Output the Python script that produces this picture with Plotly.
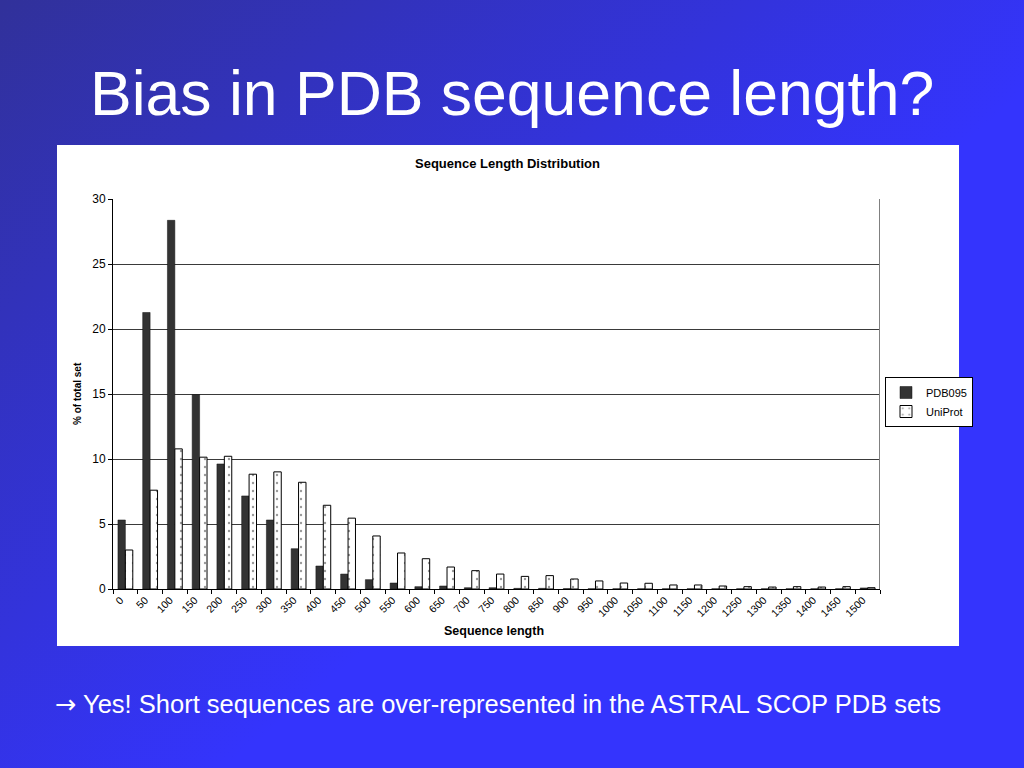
import base64
import plotly.graph_objects as go

W, H = 1024, 768

# ---- data ----
categories = [str(v) for v in range(0, 1501, 50)]
pdb095 = [5.31, 21.27, 28.36, 14.96, 9.62, 7.16, 5.31, 3.10, 1.77, 1.15,
          0.72, 0.46, 0.18, 0.23, 0.10, 0.10, 0.05, 0.05, 0.03, 0.02,
          0.02, 0.02, 0.02, 0.02, 0.02, 0.02, 0.02, 0.02, 0.02, 0.02, 0.08]
uniprot = [3.00, 7.60, 10.78, 10.14, 10.21, 8.83, 9.01, 8.21, 6.44, 5.45,
           4.08, 2.77, 2.33, 1.69, 1.41, 1.15, 0.97, 1.03, 0.77, 0.62,
           0.46, 0.44, 0.31, 0.31, 0.23, 0.18, 0.15, 0.18, 0.15, 0.18, 0.10]
y_ticks = [0, 5, 10, 15, 20, 25, 30]

FONT = "Liberation Sans, Arial, sans-serif"


def px(x):
    return x / W


def py(y):
    return 1 - y / H


# gradient background as inline svg
svg = (
    '<svg xmlns="http://www.w3.org/2000/svg" width="1024" height="768">'
    '<defs><linearGradient id="g" x1="0" y1="0" x2="0.62" y2="0.55">'
    '<stop offset="0" stop-color="#31319a"/>'
    '<stop offset="1" stop-color="#3434fd"/>'
    '</linearGradient></defs>'
    '<rect width="1024" height="768" fill="url(#g)"/></svg>'
)
svg_uri = "data:image/svg+xml;base64," + base64.b64encode(svg.encode()).decode()

fig = go.Figure()
fig.add_bar(
    x=categories, y=pdb095, name="PDB095",
    marker=dict(color="#333333", line=dict(color="#111111", width=0.5)),
)
fig.add_bar(
    x=categories, y=uniprot, name="UniProt",
    marker=dict(
        color="white",
        line=dict(color="#000000", width=1),
        pattern=dict(shape=".", fgcolor="#333333", bgcolor="white", size=8, solidity=0.07),
    ),
)

fig.update_layout(
    width=W, height=H,
    autosize=False,
    margin=dict(l=0, r=0, t=0, b=0, pad=0, autoexpand=False),
    paper_bgcolor="#3434f5",
    plot_bgcolor="white",
    barmode="group",
    bargap=0.40,
    bargroupgap=0,
    font=dict(family=FONT, color="black", size=10),
    showlegend=True,
    legend=dict(
        x=px(885), y=py(377), xanchor="left", yanchor="top",
        bgcolor="white", bordercolor="black", borderwidth=1,
        font=dict(size=11, family=FONT, color="black"),
        tracegroupgap=0, itemwidth=30,
    ),
    xaxis=dict(
        domain=[px(113), px(880)],
        type="category",
        tickson="boundaries",
        ticks="outside", ticklen=4, tickcolor="black",
        showline=True, linecolor="black", linewidth=1,
        tickangle=-45,
        ticklabelshift=-5,
        tickfont=dict(size=10.5, family=FONT, color="black"),
        showgrid=False,
        automargin=False,
        fixedrange=True,
    ),
    yaxis=dict(
        domain=[py(589), py(199)],
        range=[0, 30],
        tickvals=y_ticks,
        ticks="outside", ticklen=4, tickcolor="black",
        showline=True, linecolor="black", linewidth=1,
        showgrid=True, gridcolor="#3a3a3a", gridwidth=1,
        zeroline=False,
        tickfont=dict(size=12, family=FONT, color="black"),
        automargin=False,
        fixedrange=True,
    ),
    images=[dict(
        source=svg_uri, xref="paper", yref="paper",
        x=0, y=1, sizex=1, sizey=1, sizing="stretch",
        xanchor="left", yanchor="top", layer="below",
    )],
    shapes=[
        dict(type="rect", xref="paper", yref="paper",
             x0=px(57), x1=px(959), y0=py(646), y1=py(145),
             fillcolor="white", line=dict(width=0), layer="below"),
        dict(type="line", xref="paper", yref="paper",
             x0=px(879.5), x1=px(879.5), y0=py(589), y1=py(199),
             line=dict(color="#808080", width=1)),
    ],
    annotations=[
        dict(text="Bias in PDB sequence length?", x=px(512), y=py(93),
             xref="paper", yref="paper", xanchor="center", yanchor="middle",
             showarrow=False, font=dict(size=62.5, family=FONT, color="white")),
        dict(text='<span style="font-family:DejaVu Sans">\u2192</span> Yes! Short sequences are over-represented in the ASTRAL SCOP PDB sets',
             x=px(53), y=py(704), xref="paper", yref="paper",
             xanchor="left", yanchor="middle", showarrow=False,
             font=dict(size=25.5, family=FONT, color="white")),
        dict(text="<b>Sequence Length Distribution</b>", x=px(507), y=py(163),
             xref="paper", yref="paper", xanchor="center", yanchor="middle",
             showarrow=False, font=dict(size=13, family=FONT, color="black")),
        dict(text="<b>Sequence length</b>", x=px(494), y=py(631),
             xref="paper", yref="paper", xanchor="center", yanchor="middle",
             showarrow=False, font=dict(size=12.5, family=FONT, color="black")),
        dict(text="<b>% of total set</b>", x=px(77), y=py(394),
             xref="paper", yref="paper", xanchor="center", yanchor="middle",
             textangle=-90, showarrow=False,
             font=dict(size=10, family=FONT, color="black")),
    ],
)

fig.write_html(
    "out.html",
    config={"displayModeBar": False},
    post_script="document.body.style.margin='0';document.body.style.overflow='hidden';",
)
